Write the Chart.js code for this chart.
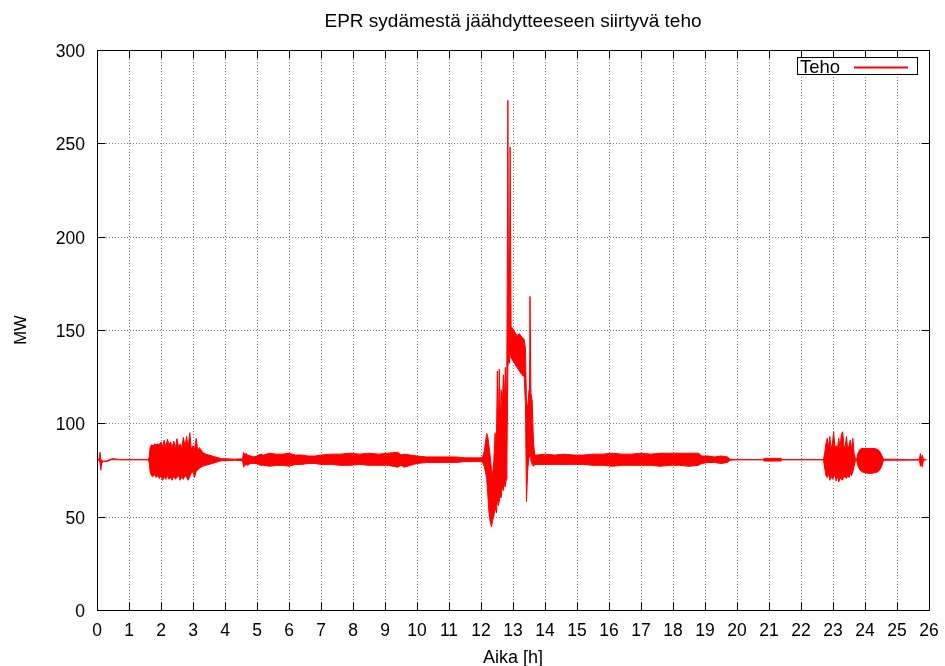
<!DOCTYPE html>
<html>
<head>
<meta charset="utf-8">
<title>EPR teho</title>
<script src="https://cdn.jsdelivr.net/npm/chart.js@4.4.1/dist/chart.umd.min.js"></script>
<style>
  html, body { margin: 0; padding: 0; background: #fff; }
  #wrap { width: 945px; height: 666px; }
</style>
</head>
<body>
<div id="wrap"><canvas id="tehoChart" width="945" height="666"></canvas></div>
<script>
// AIKA [h] JA TEHON VAIHTELUALUE (YLÄ / ALA) [MW]
const hours = [
  0, 0.06, 0.09, 0.12, 0.15, 0.2, 0.3, 0.45, 0.55, 0.7, 1.0, 1.6,
  1.63, 1.66, 1.70, 1.75, 1.80, 1.85, 1.90, 1.95, 2.00, 2.05, 2.10, 2.15, 2.20, 2.25, 2.30,
  2.35, 2.40, 2.45, 2.50, 2.55, 2.60, 2.65, 2.70, 2.75, 2.80, 2.85, 2.90, 2.95, 3.00, 3.05,
  3.10, 3.15, 3.20, 3.30, 3.40, 3.50, 3.60, 3.70, 3.80, 3.90,
  4.00, 4.30, 4.55,
  4.58, 4.62, 4.66, 4.70, 4.80, 4.90, 5.00, 5.10, 5.20, 5.40, 5.60, 5.80, 6.00, 6.20, 6.40,
  6.60, 6.80, 7.00, 7.30, 7.60, 7.90, 8.20, 8.50, 8.80, 9.10, 9.40, 9.50, 9.60, 9.80, 10.00,
  10.30, 10.60, 10.90, 11.20, 11.50, 11.80, 12.00,
  12.05, 12.10, 12.14, 12.18, 12.21, 12.25, 12.29, 12.33, 12.36, 12.40, 12.44, 12.48, 12.51,
  12.54, 12.57, 12.60, 12.63, 12.66, 12.70, 12.73, 12.76, 12.79, 12.81, 12.84, 12.86, 12.88,
  12.91, 12.94, 12.98, 13.05, 13.12, 13.20, 13.28, 13.35, 13.39, 13.42, 13.46, 13.50, 13.53,
  13.56, 13.60, 13.64, 13.68,
  13.75, 14.00, 14.30, 14.60, 14.90, 15.20, 15.50, 15.80, 16.10, 16.40, 16.70, 17.00, 17.30,
  17.60, 17.90, 18.20, 18.50, 18.80, 18.90, 19.10, 19.30, 19.50, 19.70, 19.78,
  20.00, 20.80, 20.84, 21.38, 21.42, 22.00, 22.70,
  22.74, 22.78, 22.82, 22.86, 22.90, 22.94, 22.98, 23.02, 23.06, 23.10, 23.14, 23.18, 23.22,
  23.26, 23.30, 23.34, 23.38, 23.42, 23.46, 23.50, 23.54, 23.58, 23.62, 23.66, 23.70,
  23.74, 23.78, 23.84, 23.90, 24.00, 24.10, 24.20, 24.30, 24.40, 24.46, 24.52, 24.58,
  24.80, 25.50, 25.70, 25.73, 25.76, 25.79, 25.82, 25.86, 25.92
];
const tehoMax = [
  80.5, 80.5, 84.5, 81, 80, 79.8, 79.8, 81, 81, 80.5, 80.5, 80.5,
  82, 87, 88.5, 88, 89, 88.5, 89, 88.6, 90, 87.5, 91, 87, 91.5, 88.5, 90,
  87, 90.5, 86.5, 91.8, 87, 89, 86.5, 92.5, 87.5, 93, 87, 95, 86, 88, 86.5,
  92, 85, 87, 84.5, 83.5, 83, 82.5, 82, 81.5, 81,
  81, 80.8, 81,
  84.5, 83, 84, 83, 82.5, 82, 82.5, 83.5, 83, 84, 83.5, 83.5, 84, 83, 83,
  82.5, 82.5, 83, 83.5, 83.5, 84, 83.5, 84, 83.5, 84, 84.5, 83, 83.5, 83, 82.5,
  82, 82, 82, 82, 81.5, 81.5, 81.5,
  82, 85, 90, 94.5, 93, 88, 82, 75, 72, 80, 95, 85, 128,
  96, 129, 100, 118, 108, 126, 112, 130, 115, 140, 273, 165, 140,
  248, 152, 151, 149, 147, 148, 146, 145, 140, 112, 108, 118, 168,
  116, 112, 90, 83,
  83, 83.5, 83, 83.5, 83, 83, 83.5, 83.5, 84, 83.5, 83.5, 84, 83.5,
  84, 84, 84, 84, 84, 82.5, 82.5, 82, 82.5, 82, 80.8,
  80.5, 80.5, 81.2, 81.2, 80.5, 80.5, 80.5,
  84, 89, 92, 87, 93, 86.5, 89, 95.5, 87, 88, 86.5, 92, 87,
  94, 95.5, 88, 87, 93, 86, 88, 91, 86, 92, 84, 81,
  80.8, 84, 86, 86.5, 86.5, 86.5, 86.5, 86.5, 86, 85, 83, 80.8,
  80.8, 80.5, 80.8, 83.8, 81, 83, 81, 80.5, 80.5
];
const tehoMin = [
  80.5, 80.5, 79, 75, 78.5, 79.5, 79.5, 80.5, 80.5, 80.5, 80.5, 80.5,
  79, 74, 72, 71.5, 72.5, 71, 72, 70.5, 72, 69.5, 71.5, 70, 72, 70, 71,
  69.5, 72, 70, 71, 72, 69.5, 71.5, 70, 72, 71, 69.5, 71.5, 73.5, 74, 71,
  74.5, 75, 76, 77, 77.5, 78, 78.5, 79, 79.5, 80,
  80, 80.2, 80,
  76.5, 77.5, 78, 77.5, 78.5, 78.5, 78.5, 77.5, 77.5, 77, 77.5, 77.5, 77, 78, 78,
  78.5, 78.5, 78, 78, 77.5, 77.5, 78, 77.5, 77.5, 77.5, 76.5, 77.5, 76.5, 77.5, 78.5,
  79, 79, 79, 79, 79.5, 79.5, 79.5,
  79, 77, 74, 70, 62, 52, 47, 44.6, 48, 50, 55, 52, 60,
  56, 58, 62, 60, 66, 64, 68, 66, 70, 80, 130, 135, 132,
  138, 135, 134, 132, 130, 128, 126, 125, 110, 58, 75, 82, 90,
  80, 78, 77, 78,
  78, 78, 78, 78, 78, 78, 77.5, 77.5, 77, 77.5, 77.5, 77.5, 77.5,
  77, 77.5, 77.5, 77, 77.5, 78.5, 79, 79, 78.5, 79, 80.2,
  80.5, 80.5, 79.8, 79.8, 80.5, 80.5, 80.5,
  76, 72, 71, 73, 69.5, 72, 70, 71, 73, 69, 72, 68.5, 71,
  70, 69.5, 72, 71, 70.5, 72, 71, 73, 72, 74, 77, 80,
  80.2, 77, 75, 74, 73.5, 73.2, 73.2, 73.5, 74, 75, 77, 80.2,
  80.2, 80.3, 80.3, 77, 79, 76.6, 79.5, 80.5, 80.5
];

// AKSELIT
const xTicks = [0, 1, 2, 3, 4, 5, 6, 7, 8, 9, 10, 11, 12, 13, 14, 15, 16, 17, 18, 19, 20, 21, 22, 23, 24, 25, 26];
const yTicks = [0, 50, 100, 150, 200, 250, 300];

const FONT = '"Liberation Sans", Arial, Helvetica, sans-serif';
const RED = "#ff0000";

// gnuplot-tyylinen kehys: pisteviiva-ruudukko, sisäänpäin tikit, otsikot ja selite
const gnuplotFrame = {
  id: "gnuplotFrame",
  beforeDatasetsDraw(chart) {
    const { ctx, chartArea: a, scales } = chart;
    ctx.save();
    ctx.strokeStyle = "#808080";
    ctx.lineWidth = 1;
    ctx.setLineDash([1, 2]);
    ctx.beginPath();
    xTicks.forEach((v) => {
      const px = Math.round(scales.x.getPixelForValue(v)) + 0.5;
      ctx.moveTo(px, a.top);
      ctx.lineTo(px, a.bottom);
    });
    yTicks.forEach((v) => {
      const py = Math.round(scales.y.getPixelForValue(v)) + 0.5;
      ctx.moveTo(a.left, py);
      ctx.lineTo(a.right, py);
    });
    ctx.stroke();
    ctx.restore();
  },
  afterDatasetsDraw(chart) {
    const { ctx, chartArea: a, scales } = chart;
    const L = Math.round(a.left) + 0.5, R = Math.round(a.right) + 0.5;
    const T = Math.round(a.top) + 0.5, B = Math.round(a.bottom) + 0.5;
    const tick = 8;
    ctx.save();
    ctx.setLineDash([]);
    ctx.strokeStyle = "#000";
    ctx.lineWidth = 1;
    ctx.beginPath();
    ctx.rect(L, T, R - L, B - T);
    xTicks.forEach((v) => {
      const px = Math.round(scales.x.getPixelForValue(v)) + 0.5;
      ctx.moveTo(px, B); ctx.lineTo(px, B - tick);
      ctx.moveTo(px, T); ctx.lineTo(px, T + tick);
    });
    yTicks.forEach((v) => {
      const py = Math.round(scales.y.getPixelForValue(v)) + 0.5;
      ctx.moveTo(L, py); ctx.lineTo(L + tick, py);
      ctx.moveTo(R, py); ctx.lineTo(R - tick, py);
    });
    ctx.stroke();

    // tikkien tekstit
    ctx.fillStyle = "#000";
    ctx.font = "17.5px " + FONT;
    ctx.textBaseline = "alphabetic";
    ctx.textAlign = "center";
    xTicks.forEach((v) => {
      ctx.fillText(String(v), scales.x.getPixelForValue(v), 636);
    });
    ctx.textAlign = "right";
    yTicks.forEach((v) => {
      ctx.fillText(String(v), 85, scales.y.getPixelForValue(v) + 7);
    });

    // otsikko ja akselien nimet
    const cx = (a.left + a.right) / 2;
    ctx.textAlign = "center";
    ctx.font = "19px " + FONT;
    ctx.fillText("EPR sydämestä jäähdytteeseen siirtyvä teho", cx, 27);
    ctx.font = "18px " + FONT;
    ctx.fillText("Aika [h]", cx, 663);
    ctx.save();
    ctx.font = "16.5px " + FONT;
    ctx.translate(26, (a.top + a.bottom) / 2);
    ctx.rotate(-Math.PI / 2);
    ctx.fillText("MW", 0, 0);
    ctx.restore();

    // selite
    ctx.fillStyle = "#fff";
    ctx.fillRect(797.5, 57.5, 120, 17);
    ctx.strokeRect(797.5, 57.5, 120, 17);
    ctx.fillStyle = "#000";
    ctx.font = "18.5px " + FONT;
    ctx.textAlign = "left";
    ctx.fillText(chart.data.datasets[0].label, 800, 73);
    ctx.fillStyle = RED;
    ctx.fillRect(854, 66.5, 54, 2);
    ctx.restore();
  }
};

const ctx = document.getElementById("tehoChart");

new Chart(ctx, {
  type: "line",
  data: {
    datasets: [
      {
        label: "Teho",
        data: hours.map((h, i) => ({ x: h, y: tehoMax[i] })),
        borderColor: RED,
        borderWidth: 1,
        pointRadius: 0,
        tension: 0,
        fill: false,
      },
      {
        label: "Teho (min)",
        data: hours.map((h, i) => ({ x: h, y: tehoMin[i] })),
        borderColor: RED,
        backgroundColor: RED,
        borderWidth: 1,
        pointRadius: 0,
        tension: 0,
        fill: "-1",
      },
    ],
  },
  options: {
    responsive: false,
    animation: false,
    layout: { padding: { left: 0, right: 16, top: 50, bottom: 0 } },
    plugins: {
      legend: { display: false },
      title: { display: false },
      tooltip: { enabled: false },
      filler: { propagate: false },
    },
    scales: {
      x: {
        type: "linear",
        min: 0,
        max: 26,
        afterBuildTicks: (s) => { s.ticks = xTicks.map((v) => ({ value: v })); },
        afterFit: (s) => { s.height = 56; },
        grid: { display: false },
        border: { display: false },
        ticks: { display: false },
      },
      y: {
        min: 0,
        max: 300,
        afterBuildTicks: (s) => { s.ticks = yTicks.map((v) => ({ value: v })); },
        afterFit: (s) => { s.width = 97; },
        grid: { display: false },
        border: { display: false },
        ticks: { display: false },
      },
    },
  },
  plugins: [gnuplotFrame],
});
</script>
</body>
</html>
